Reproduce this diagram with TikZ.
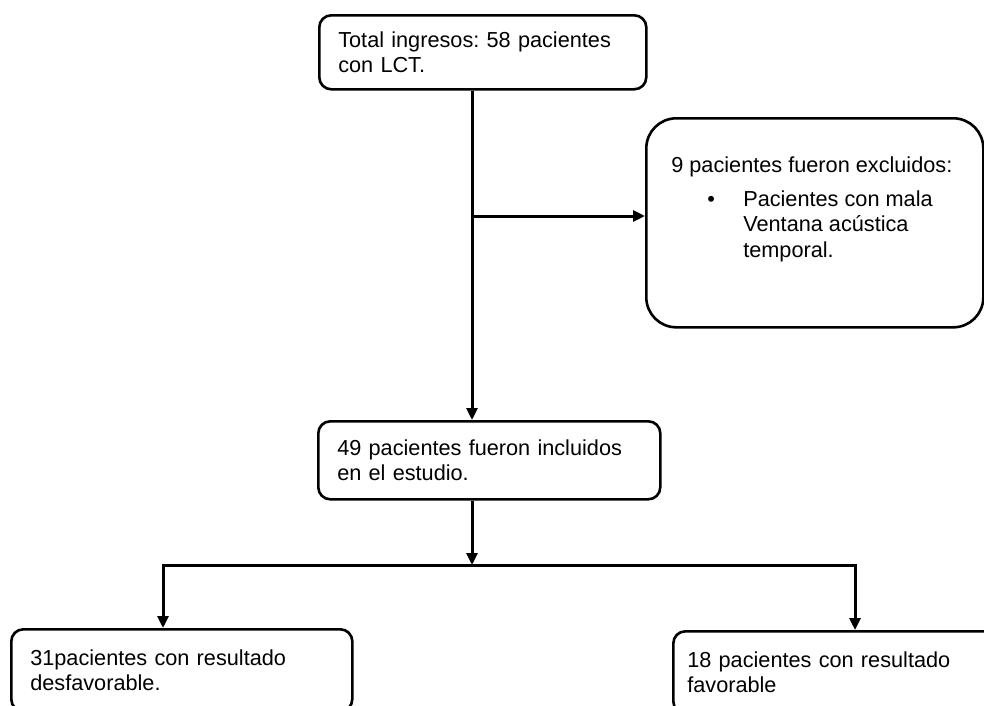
\documentclass[tikz,border=0pt]{standalone}
\usepackage{fontspec}
\setmainfont{Liberation Sans}
\usetikzlibrary{arrows.meta}
\frenchspacing

\tikzset{
  caja/.style={draw, line width=2.6pt, rounded corners=12pt, anchor=north west,
    align=left, inner xsep=19pt, inner ysep=0pt,
    font=\fontsize{21.7}{25.5}\selectfont},
  flecha/.style={line width=3pt, -{Triangle[length=12pt,width=11pt]}}
}

\begin{document}
\begin{tikzpicture}[x=1pt, y=-1pt]
\useasboundingbox (0,0) rectangle (984,705);
% cajas
\node[caja, text width=289pt, minimum height=74pt] (ingreso) at (318,14) {Total ingresos: 58 pacientes\\con LCT.};
\node[caja, rounded corners=30pt, inner xsep=18pt, inner ysep=38pt, minimum width=337pt, minimum height=209pt] (excluidos) at (645,117)
  {\parbox[c][133pt][t]{301pt}{\hspace*{7pt}9 pacientes fueron excluidos:\par\vspace{8.5pt}
   \hspace*{43pt}\makebox[36pt][l]{\textbullet}\parbox[t]{210pt}{Pacientes con mala\\Ventana acústica\\temporal.}}};
\node[caja, text width=304pt, minimum height=78pt] (incluidos) at (317,420) {49 pacientes fueron incluidos\\en el estudio.};
\node[caja, text width=303pt, minimum height=82pt] (desfav) at (10,628) {31pacientes con resultado\\desfavorable.};
\node[caja, inner xsep=14pt, text width=312pt, minimum height=82pt] (fav) at (672,630) {18 pacientes con resultado\\favorable};
% puntos de las ramas
\coordinate (eje) at (472,0);
\coordinate (rama) at (472,216);
\coordinate (reparto) at (472,565);
\coordinate (izq) at (163,565);
\coordinate (der) at (855,565);
% flechas
\draw[flecha] (ingreso.south -| eje) -- (incluidos.north -| eje);
\draw[flecha] (rama) -- (rama -| excluidos.west);
\draw[flecha] (incluidos.south -| eje) -- (reparto);
\draw[flecha] (reparto) -| (izq |- desfav.north);
\draw[flecha] (reparto) -| (der |- fav.north);
\end{tikzpicture}
\end{document}
